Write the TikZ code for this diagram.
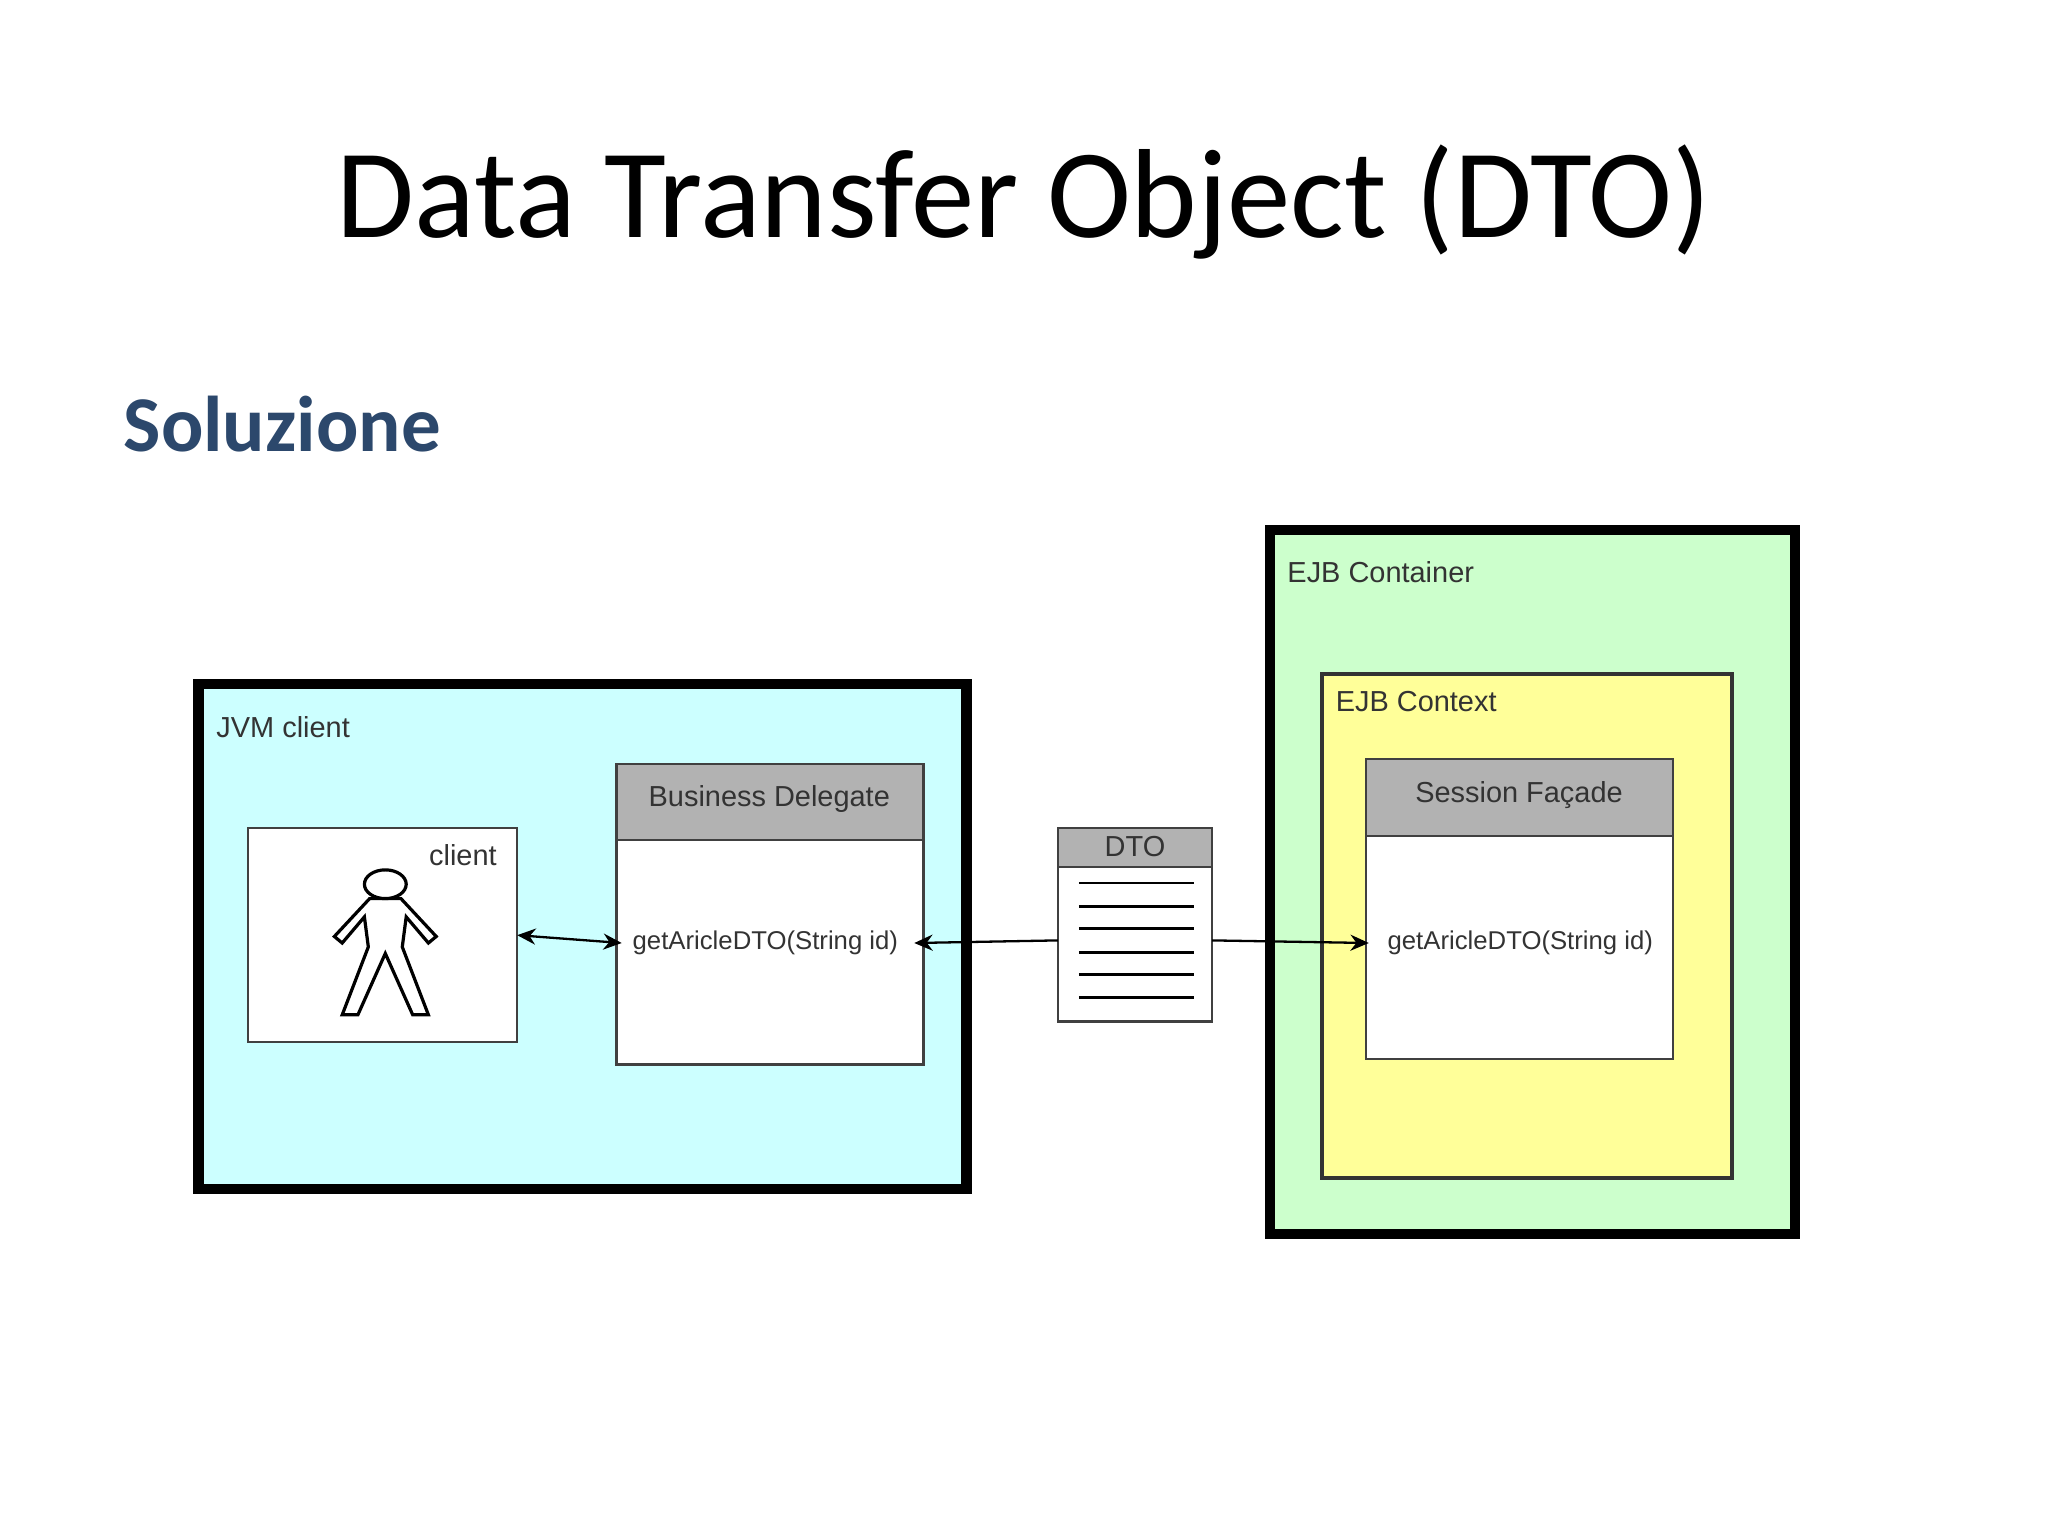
\documentclass[tikz,border=0pt]{standalone}
\usepackage{fontspec}
\setmainfont{Liberation Sans}
\newfontfamily\titlefont{Carlito}
\usetikzlibrary{arrows.meta}
\begin{document}
\begin{tikzpicture}[x=0.01cm,y=-0.01cm,
  lbl/.style={font=\fontsize{6.3pt}{7pt}\selectfont, text=black!80, inner sep=0},
  thick box/.style={draw=black, line width=2.2pt},
  thin box/.style={draw=black!75, line width=0.5pt, fill=white},
  hdr/.style={draw=black!75, line width=0.5pt, fill=black!30},
  conn/.style={line width=0.5pt, -{Stealth[length=4pt,width=3.5pt]}}]
\useasboundingbox (0,0) rectangle (1568,1176);
\fill[white] (0,0) rectangle (1568,1176);
\node[font=\titlefont\fontsize{27.6pt}{30pt}\selectfont] (title) at (784,155) {Data Transfer Object (DTO)};
\node[font=\titlefont\bfseries\fontsize{17.2pt}{19pt}\selectfont, text={rgb,255:red,44;green,72;blue,108}, anchor=west, inner sep=0] (sol) at (94,325) {Soluzione};
% JVM client
\draw[thick box, fill={rgb,255:red,204;green,255;blue,255}] (152,524) rectangle (740,910);
\node[lbl, anchor=west] (jvm) at (165,557) {JVM client};
\draw[thin box] (190,634) rectangle (396,798);
\node[lbl, anchor=east] (cl) at (381,655) {client};
\coordinate (clR) at (396,716);
% stick figure
\begin{scope}[line width=0.7pt]
\draw (295,677) ellipse (16 and 11);
\draw (283,688) -- (256,717) -- (262,722) -- (279,702) -- (282,725) -- (262,777) -- (274,777) -- (295,730)
      -- (316,777) -- (328,777) -- (308,725) -- (311,702) -- (328,722) -- (334,717) -- (307,688) -- cycle;
\end{scope}
% Business delegate
\draw[thin box] (472,585) rectangle (707,815);
\draw[hdr] (472,585) rectangle (707,643);
\node[lbl] (bdh) at (589,612) {Business Delegate};
\node[lbl, font=\fontsize{5.6pt}{6pt}\selectfont] (bdm) at (586,722) {getAricleDTO(String id)};
\coordinate (bdL) at (476,722);
\coordinate (bdR) at (700,722);
% DTO
\draw[thin box] (810,634) rectangle (928,782);
\draw[hdr] (810,634) rectangle (928,664);
\node[lbl] (dtoh) at (869,648) {DTO};
\foreach \y in {676,694,711,729,746,764} \draw[line width=0.6pt] (826,\y) -- (914,\y);
\coordinate (dL) at (810,720);
\coordinate (dR) at (928,720);
% EJB Container
\draw[thick box, fill={rgb,255:red,204;green,255;blue,204}] (972,406) rectangle (1374,945);
\node[lbl, anchor=west] (ejbc) at (985,438) {EJB Container};
\draw[draw=black!80, line width=0.9pt, fill={rgb,255:red,255;green,255;blue,153}] (1012,516) rectangle (1326,902);
\node[lbl, anchor=west] (ejbx) at (1022,537) {EJB Context};
\draw[thin box] (1046,581) rectangle (1281,811);
\draw[hdr] (1046,581) rectangle (1281,640);
\node[lbl] (sfh) at (1163,609) {Session Façade};
\node[lbl, font=\fontsize{5.6pt}{6pt}\selectfont] (sfm) at (1164,722) {getAricleDTO(String id)};
\coordinate (sfL) at (1048,722);
% connectors
\draw[conn, {Stealth[length=4pt,width=3.5pt]}-{Stealth[length=4pt,width=3.5pt]}] (clR) -- (bdL);
\draw[conn] (dL) -- (bdR);
\draw[conn] (dR) -- (sfL);
\end{tikzpicture}
\end{document}
